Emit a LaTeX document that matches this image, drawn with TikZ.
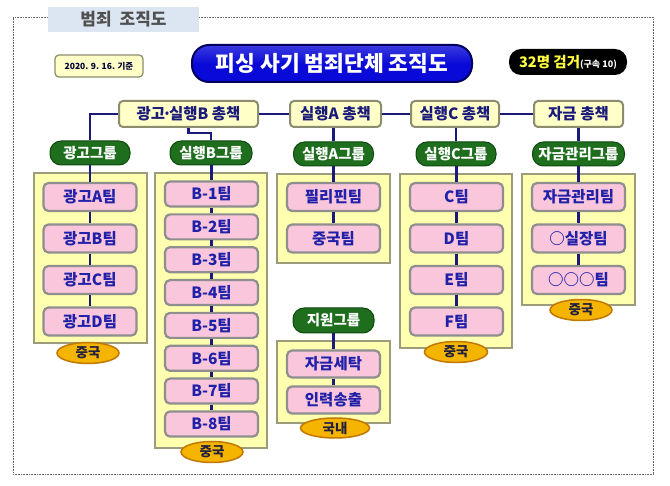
\documentclass[tikz,border=0pt]{standalone}
\usepackage{fontspec}
\setmainfont{Noto Sans CJK KR}
\usetikzlibrary{shapes.geometric}
\definecolor{linec}{HTML}{1A1A7A}
\definecolor{topfill}{HTML}{FFFFC8}
\definecolor{topdraw}{HTML}{8C8C6E}
\definecolor{contfill}{HTML}{FFFFB0}
\definecolor{contdraw}{HTML}{9C9C7C}
\definecolor{teamfill}{HTML}{F9C6DC}
\definecolor{teamdraw}{HTML}{8E8E8E}
\definecolor{teamtext}{HTML}{2020A8}
\definecolor{grpfill}{HTML}{1E6E1E}
\definecolor{grpdraw}{HTML}{0E4A0E}
\definecolor{ovfill}{HTML}{F5B400}
\definecolor{ovdraw}{HTML}{C07800}
\definecolor{ovtext}{HTML}{202040}
\definecolor{titlefill}{HTML}{0A0AD8}
\definecolor{titledraw}{HTML}{000060}
\definecolor{headfill}{HTML}{DCE6F2}
\definecolor{headtext}{HTML}{505050}
\definecolor{yel}{HTML}{FFFF40}
\begin{document}
\begin{tikzpicture}[x=1pt,y=-1pt,
  topbox/.style={rounded corners=4pt, fill=topfill, draw=topdraw, line width=2pt,
    text=linec, font=\fontsize{15.5}{15.5}\selectfont\bfseries, minimum height=26, inner sep=0pt},
  grp/.style={rounded corners=11pt, fill=grpfill, draw=grpdraw, line width=1pt,
    text=white, font=\fontsize{14.5}{14.5}\selectfont\bfseries, minimum height=24, inner sep=0pt},
  cont/.style={fill=contfill, draw=contdraw, line width=2pt, inner sep=0pt},
  team/.style={rounded corners=5pt, fill=teamfill, draw=teamdraw, line width=2.2pt,
    text=teamtext, font=\fontsize{15.5}{15.5}\selectfont\bfseries, minimum width=93, inner sep=0pt},
  oval/.style={ellipse, fill=ovfill, draw=ovdraw, line width=1.5pt, inner sep=0pt,
    text=ovtext, font=\fontsize{13.5}{13.5}\selectfont\bfseries},
  conn/.style={draw=linec, line width=2.5pt}
]
\useasboundingbox (0,0) rectangle (670,486);
\fill[white] (0,0) rectangle (670,486);
% frame
\node[draw=black!60, densely dotted, line width=0.6pt, minimum width=640, minimum height=457, inner sep=0pt] (frame) at (333,245.5) {};
% header
\node[fill=headfill, minimum width=151, minimum height=25, inner sep=0pt, text=headtext,
  font=\fontsize{17}{17}\selectfont\bfseries] (head) at (123.5,19.5) {범죄\hspace{8pt}조직도};
% date
\node[rounded corners=4pt, fill=topfill, draw=topdraw, line width=1.2pt, minimum width=88, minimum height=22, inner sep=0pt,
  text=black!80!blue, font=\fontsize{8.5}{8.5}\selectfont\bfseries] (date) at (99,66) {2020. 9. 16. 기준};
% title
\node[rounded corners=17pt, top color=titlefill!80!white, bottom color=titlefill, middle color=titlefill, draw=titledraw, line width=2pt,
  minimum width=280, minimum height=37, inner sep=0pt, text=white,
  font=\fontsize{21.5}{21.5}\selectfont\bfseries] (title) at (332,63.5) {피싱 사기 범죄단체 조직도};
% arrest count
\node[rounded corners=12pt, fill=black, minimum width=118, minimum height=26, inner sep=0pt] (cnt) at (568,62)
  {{\color{yel}\fontsize{14.5}{14.5}\selectfont\bfseries 32명 검거}{\color{white}\fontsize{9}{9}\selectfont\bfseries(구속 10)}};

% top row
\node[topbox, minimum width=139] (tb1) at (188.5,114) {광고\hbox to 4pt{\hss·\hss}실행B 총책};
\node[topbox, minimum width=91] (tb2) at (335.5,114) {실행A 총책};
\node[topbox, minimum width=88] (tb3) at (455,114) {실행C 총책};
\node[topbox, minimum width=89] (tb4) at (578.5,114) {자금 총책};

% containers
\node[cont, minimum width=113, minimum height=170] (c1) at (90.5,258) {};
\node[cont, minimum width=112, minimum height=275] (c2) at (211,310.5) {};
\node[cont, minimum width=113, minimum height=89] (c3) at (333.5,218.5) {};
\node[cont, minimum width=112, minimum height=174] (c4) at (456,261) {};
\node[cont, minimum width=113, minimum height=131] (c5) at (578.5,239.5) {};
\node[cont, minimum width=113, minimum height=82] (c6) at (333.5,382) {};

% groups
\node[grp, minimum width=80] (g1) at (90,153) {광고그룹};
\node[grp, minimum width=82] (g2) at (211,153) {실행B그룹};
\node[grp, minimum width=80] (g3) at (333.5,154) {실행A그룹};
\node[grp, minimum width=80] (g4) at (456,154) {실행C그룹};
\node[grp, minimum width=92] (g5) at (578.5,154) {자금관리그룹};
\node[grp, minimum width=81, minimum height=25] (g6) at (333.5,320.5) {지원그룹};

% teams column 1
\node[team, minimum height=28] (a1) at (90,197) {광고A팀};
\node[team, minimum height=28] (a2) at (90,238.5) {광고B팀};
\node[team, minimum height=28] (a3) at (90,280) {광고C팀};
\node[team, minimum height=28] (a4) at (90,321.5) {광고D팀};
% column 2
\foreach \i/\y in {1/194,2/226.9,3/259.7,4/292.6,5/325.4,6/358.3,7/391.1,8/424}
  \node[team, minimum height=25] (b\i) at (211.5,\y) {B-\i{}팀};
% column 3
\node[team, minimum height=28] (p1) at (333.5,197) {필리핀팀};
\node[team, minimum height=28] (p2) at (333.5,238.5) {중국팀};
% column 4
\node[team, minimum height=28] (d1) at (456.5,197) {C팀};
\node[team, minimum height=28] (d2) at (456.5,238.5) {D팀};
\node[team, minimum height=28] (d3) at (456.5,280) {E팀};
\node[team, minimum height=28] (d4) at (456.5,321.5) {F팀};
% column 5
\node[team, minimum height=28] (m1) at (578.5,197) {자금관리팀};
\node[team, minimum height=28] (m2) at (578.5,238.5) {○실장팀};
\node[team, minimum height=28] (m3) at (578.5,280) {○○○팀};
% column 6
\node[team, minimum height=27] (s1) at (333.5,364) {자금세탁};
\node[team, minimum height=27] (s2) at (333.5,400) {인력송출};

% ovals
\node[oval, minimum width=62, minimum height=21] (e1) at (88,353) {중국};
\node[oval, minimum width=62, minimum height=21] (e2) at (212,452) {중국};
\node[oval, minimum width=69, minimum height=20] (e3) at (335,428) {국내};
\node[oval, minimum width=63, minimum height=21] (e4) at (456,352) {중국};
\node[oval, minimum width=62, minimum height=21] (e5) at (581,310) {중국};

% connectors top
\draw[conn] (tb1.east) -- (tb2.west);
\draw[conn] (tb2.east) -- (tb3.west);
\draw[conn] (tb3.east) -- (tb4.west);
\draw[conn] (tb1.west) -| (g1.north);
\draw[conn] (tb1.south) -- ++(0,5) -| (g2.north);
\draw[conn] (g3.north |- tb2.south) -- (g3.north);
\draw[conn] (g4.north |- tb3.south) -- (g4.north);
\draw[conn] (g5.north |- tb4.south) -- (g5.north);
% group to teams
\draw[conn] (g1.south) -- (a1.north);
\draw[conn] (a1.south) -- (a2.north);
\draw[conn] (a2.south) -- (a3.north);
\draw[conn] (a3.south) -- (a4.north);
\draw[conn] (g2.south -| b1.north) -- (b1.north);
\foreach \i [evaluate=\i as \j using int(\i+1)] in {1,...,7}
  \draw[conn] (b\i.south) -- (b\j.north);
\draw[conn] (g3.south) -- (p1.north);
\draw[conn] (p1.south) -- (p2.north);
\draw[conn] (g4.south -| d1.north) -- (d1.north);
\draw[conn] (d1.south) -- (d2.north);
\draw[conn] (d2.south) -- (d3.north);
\draw[conn] (d3.south) -- (d4.north);
\draw[conn] (g5.south) -- (m1.north);
\draw[conn] (m1.south) -- (m2.north);
\draw[conn] (m2.south) -- (m3.north);
\draw[conn] (g6.south) -- (s1.north);
\draw[conn] (s1.south) -- (s2.north);
\end{tikzpicture}
\end{document}
